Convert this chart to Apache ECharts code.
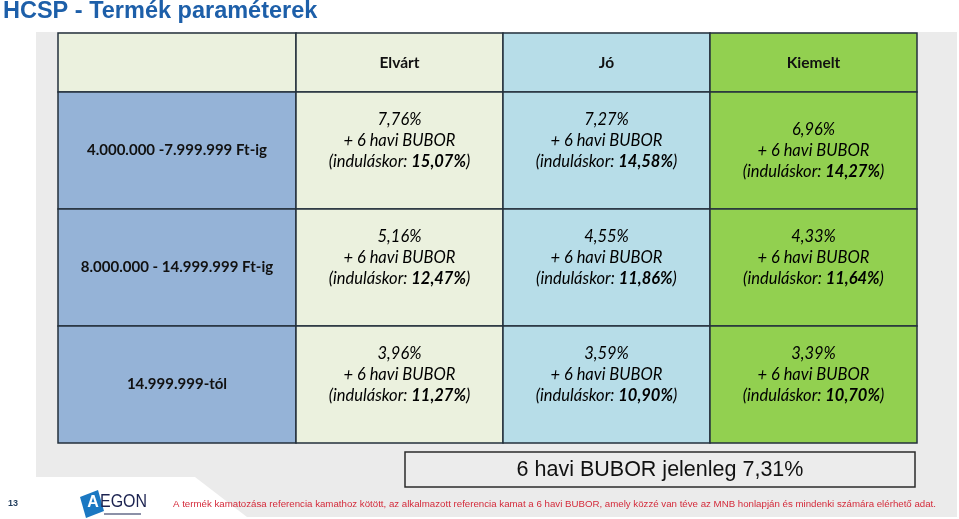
<!DOCTYPE html>
<html>
<head>
<meta charset="utf-8">
<script src="https://cdn.jsdelivr.net/npm/echarts@6/dist/echarts.min.js"></script>
<style>html,body{margin:0;padding:0;background:#fff}#c{width:959px;height:519px}</style>
</head>
<body>
<div id="c"></div>
<script>
const titleText = 'HCSP - Termék paraméterek';
const columns = ['Elvárt', 'Jó', 'Kiemelt'];
const rowLabels = ['4.000.000 -7.999.999 Ft-ig', '8.000.000 - 14.999.999 Ft-ig', '14.999.999-tól'];
const margins = [[7.76, 7.27, 6.96], [5.16, 4.55, 4.33], [3.96, 3.59, 3.39]];
const startRates = [[15.07, 14.58, 14.27], [12.47, 11.86, 11.64], [11.27, 10.90, 10.70]];
const buborNow = 7.31;
const pageNumber = '13';
const footnote = 'A termék kamatozása referencia kamathoz kötött, az alkalmazott referencia kamat a 6 havi BUBOR, amely közzé van téve az MNB honlapján és mindenki számára elérhető adat.';

const fmt = v => v.toFixed(2).replace('.', ',');
const colFill = ['#ebf1de', '#b7dde8', '#92d050'];
const rowFill = '#95b3d7';
const border = '#24303c';
const FONT = 'Lato, "Open Sans", sans-serif';
const ARIAL = '"Liberation Sans", Arial, sans-serif';

const chart = echarts.init(document.getElementById('c'), null, {renderer: 'canvas'});

function cellRect(api) {
  const p = api.coord([api.value(0), api.value(1)]);
  const s = api.size([1, 1]);
  return {x: p[0] - s[0] / 2, y: p[1] - s[1] / 2, w: s[0], h: s[1], cx: p[0], cy: p[1]};
}
function rectEl(r, fill) {
  return {type: 'rect', shape: {x: r.x, y: r.y, width: r.w, height: r.h},
    style: {fill: fill, stroke: border, lineWidth: 1.5}};
}

const richBody = {
  i: {fontFamily: FONT, fontSize: 16.5, fontStyle: 'italic', color: '#1a1a1a', lineHeight: 21},
  b: {fontFamily: FONT, fontSize: 16.5, fontStyle: 'italic', fontWeight: 'bold', color: '#1a1a1a', lineHeight: 21}
};

const bodyData = [];
margins.forEach((row, r) => row.forEach((m, c) => bodyData.push([c, r, m, startRates[r][c]])));

const axisHidden = {show: false};
const cat = (data, inverse) => ({type: 'category', data: data, inverse: !!inverse, axisLine: axisHidden, axisTick: axisHidden, axisLabel: axisHidden, splitLine: axisHidden});

const option = {
  animation: false,
  backgroundColor: '#ffffff',
  graphic: [
    {type: 'polygon', z: -10, shape: {points: [[36, 32], [957, 32], [957, 517], [247, 517], [195, 477], [36, 477]]}, style: {fill: '#ebebeb'}},
    {type: 'text', left: 3, top: 0, style: {text: titleText, fontFamily: ARIAL, fontWeight: 'bold', fontSize: 23.5, fill: '#1d5fa9'}},
    {type: 'rect', shape: {x: 405, y: 452, width: 510, height: 35}, style: {fill: '#ececec', stroke: '#2b2b2b', lineWidth: 1.5}},
    {type: 'text', x: 660, y: 470, style: {text: '6 havi BUBOR jelenleg ' + fmt(buborNow) + '%', align: 'center', verticalAlign: 'middle', fontFamily: ARIAL, fontSize: 21.5, fill: '#111'}},
    {type: 'text', x: 13, y: 504, style: {text: pageNumber, align: 'center', verticalAlign: 'middle', fontFamily: ARIAL, fontWeight: 'bold', fontSize: 9, fill: '#1f3c5c'}},
    {type: 'polygon', shape: {points: [[80, 497], [98, 490], [104, 511], [86, 518]]}, style: {fill: '#1b78c2'}},
    {type: 'text', x: 93, y: 503, style: {text: 'A', align: 'center', verticalAlign: 'middle', fontFamily: ARIAL, fontWeight: 'bold', fontSize: 16, fill: '#ffffff'}},
    {type: 'text', x: 100, y: 502, scaleX: 0.84, originX: 0, originY: 0, style: {text: 'EGON', align: 'left', verticalAlign: 'middle', fontFamily: ARIAL, fontSize: 19, fill: '#1b2250'}},
    {type: 'line', shape: {x1: 104, y1: 514, x2: 141, y2: 514}, style: {stroke: '#1b2250', lineWidth: 1.2}},
    {type: 'text', x: 173, y: 504, style: {text: footnote, align: 'left', verticalAlign: 'middle', fontFamily: ARIAL, fontSize: 9.7, fill: '#d42a3a'}}
  ],
  grid: [
    {left: 58, top: 33, width: 238, height: 59},
    {left: 296, top: 33, width: 621, height: 59},
    {left: 58, top: 92, width: 238, height: 351},
    {left: 296, top: 92, width: 621, height: 351}
  ],
  xAxis: [
    Object.assign(cat(['']), {gridIndex: 0}),
    Object.assign(cat(columns), {gridIndex: 1}),
    Object.assign(cat(['']), {gridIndex: 2}),
    Object.assign(cat(columns), {gridIndex: 3})
  ],
  yAxis: [
    Object.assign(cat(['']), {gridIndex: 0}),
    Object.assign(cat(['']), {gridIndex: 1}),
    Object.assign(cat(rowLabels, true), {gridIndex: 2}),
    Object.assign(cat(rowLabels, true), {gridIndex: 3})
  ],
  series: [
    {type: 'custom', xAxisIndex: 0, yAxisIndex: 0, data: [[0, 0]],
      renderItem: (p, api) => rectEl(cellRect(api), colFill[0])},
    {type: 'custom', xAxisIndex: 1, yAxisIndex: 1, data: columns.map((c, i) => [i, 0]),
      renderItem: (p, api) => {
        const r = cellRect(api), c = api.value(0);
        return {type: 'group', children: [rectEl(r, colFill[c]),
          {type: 'text', x: r.cx, y: r.cy, style: {text: columns[c], align: 'center', verticalAlign: 'middle', fontFamily: FONT, fontWeight: 'bold', fontSize: 15.5, fill: '#111'}}]};
      }},
    {type: 'custom', xAxisIndex: 2, yAxisIndex: 2, data: rowLabels.map((l, i) => [0, i]),
      renderItem: (p, api) => {
        const r = cellRect(api), i = api.value(1);
        return {type: 'group', children: [rectEl(r, rowFill),
          {type: 'text', x: r.cx, y: r.cy, style: {text: rowLabels[i], align: 'center', verticalAlign: 'middle', fontFamily: FONT, fontWeight: 'bold', fontSize: 15, fill: '#111'}}]};
      }},
    {type: 'custom', xAxisIndex: 3, yAxisIndex: 3, data: bodyData,
      renderItem: (p, api) => {
        const r = cellRect(api), c = api.value(0), row = api.value(1);
        const m = api.value(2), s = api.value(3);
        const dy = (row === 0 && c === 2) ? 0 : -10;
        const txt = '{i|' + fmt(m) + '%}\n{i|+ 6 havi BUBOR}\n{i|(induláskor: }{b|' + fmt(s) + '%}{i|)}';
        return {type: 'group', children: [rectEl(r, colFill[c]),
          {type: 'text', x: r.cx, y: r.cy + dy, style: {text: txt, rich: richBody, align: 'center', verticalAlign: 'middle'}}]};
      }}
  ]
};
chart.setOption(option);
</script>
</body>
</html>
